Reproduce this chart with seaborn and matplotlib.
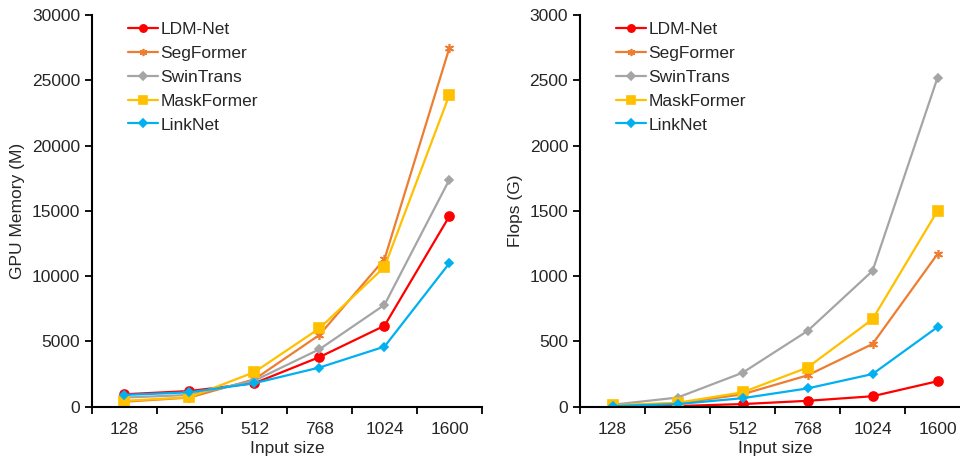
import matplotlib
matplotlib.use("Agg")
import matplotlib.pyplot as plt
import seaborn as sns
import pandas as pd
from matplotlib.ticker import FixedLocator

# Input resolutions (categorical x axis)
input_sizes = ["128", "256", "512", "768", "1024", "1600"]

models = ["LDM-Net", "SegFormer", "SwinTrans", "MaskFormer", "LinkNet"]

# GPU memory usage (M)
mem_ldmnet = [950, 1200, 1800, 3800, 6200, 14600]
mem_segformer = [380, 700, 2100, 5500, 11300, 27500]
mem_swintrans = [700, 900, 2000, 4400, 7800, 17400]
mem_maskformer = [450, 720, 2650, 6000, 10700, 23900]
mem_linknet = [900, 1100, 1800, 3000, 4600, 11000]

# Computational cost (GFlops)
flops_ldmnet = [2, 5, 20, 45, 80, 195]
flops_segformer = [10, 25, 95, 240, 480, 1170]
flops_swintrans = [15, 70, 260, 580, 1040, 2520]
flops_maskformer = [10, 30, 110, 300, 670, 1500]
flops_linknet = [5, 20, 65, 140, 250, 610]

memory = [mem_ldmnet, mem_segformer, mem_swintrans, mem_maskformer, mem_linknet]
flops = [flops_ldmnet, flops_segformer, flops_swintrans, flops_maskformer, flops_linknet]

colors = ["#FF0000", "#ED7D31", "#A5A5A5", "#FFC000", "#00B0F0"]
markers = ["o", (6, 2, 0), "D", "s", "D"]
msizes = [6.5, 6.5, 4.5, 6.5, 4.5]

FS = 12.5

sns.set_style("ticks")
plt.rcParams["font.family"] = ["Liberation Sans", "DejaVu Sans"]

fig = plt.figure(figsize=(9.6, 4.61), dpi=100)
ax1 = fig.add_axes([0.0958, 0.1178, 0.40625, 0.8497])
ax2 = fig.add_axes([0.6042, 0.1178, 0.40625, 0.8497])


def draw_panel(ax, series, ylabel, ymax, ystep):
    for name, vals, c, m, ms in zip(models, series, colors, markers, msizes):
        df = pd.DataFrame({"size": input_sizes, "value": vals})
        sns.lineplot(data=df, x="size", y="value", ax=ax, color=c, marker=m,
                     markersize=ms, markeredgecolor=c, markeredgewidth=1.2,
                     linewidth=1.6, label=name, sort=False)
    ax.set_xlim(-0.5, len(input_sizes) - 0.5)
    ax.set_ylim(0, ymax)
    ax.set_yticks(range(0, ymax + 1, ystep))
    ax.xaxis.set_minor_locator(FixedLocator([i - 0.5 for i in range(len(input_sizes) + 1)]))
    ax.tick_params(axis="x", which="major", length=0, pad=11, labelsize=FS)
    ax.tick_params(axis="x", which="minor", length=5, width=1.3, direction="out", color="black")
    ax.tick_params(axis="y", length=5, width=1.3, direction="out", labelsize=FS, color="black")
    ax.set_xlabel("Input size", fontsize=FS, labelpad=3)
    ax.set_ylabel(ylabel, fontsize=FS, labelpad=5)
    for s in ["top", "right"]:
        ax.spines[s].set_visible(False)
    for s in ["left", "bottom"]:
        ax.spines[s].set_linewidth(1.5)
        ax.spines[s].set_color("black")
    ax.legend(loc="upper left", bbox_to_anchor=(0.062, 1.013), frameon=False,
              fontsize=FS, handlelength=1.7, handletextpad=0.15,
              labelspacing=0.5, borderpad=0.2, markerscale=0.8)


draw_panel(ax1, memory, "GPU Memory (M)", 30000, 5000)
draw_panel(ax2, flops, "Flops (G)", 3000, 500)

fig.savefig("out.png", dpi=100)
